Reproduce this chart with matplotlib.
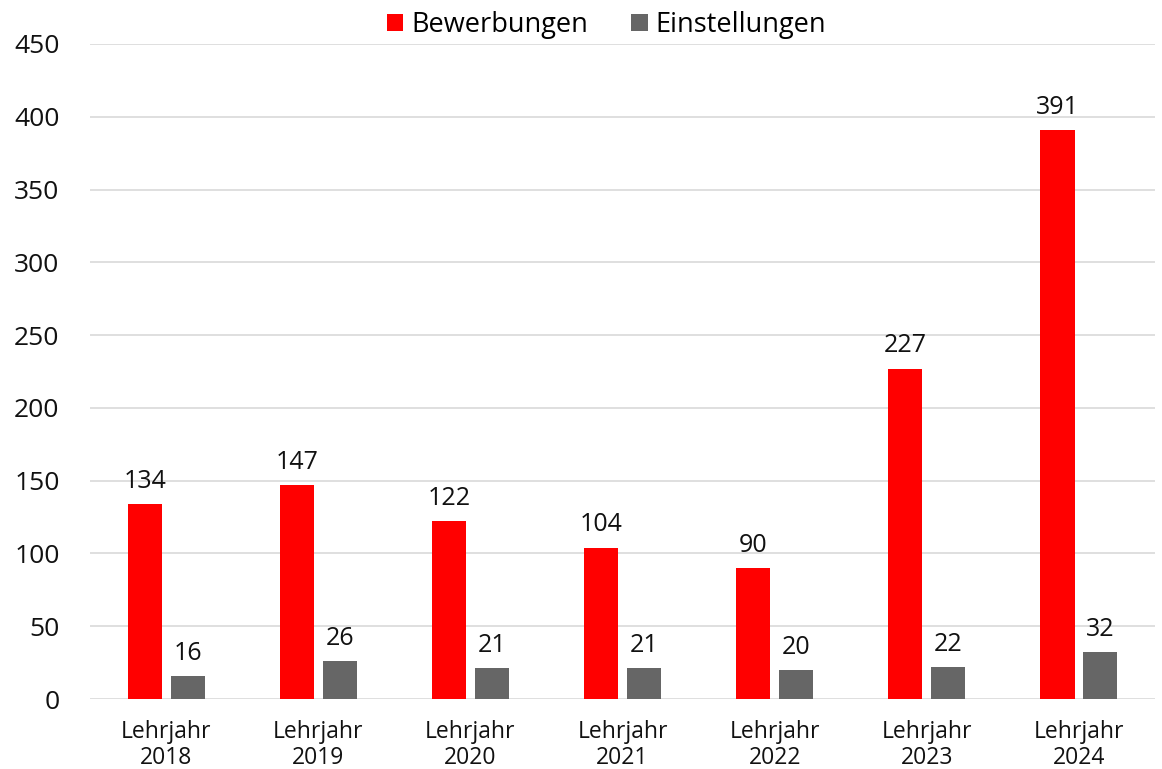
import matplotlib
matplotlib.use("Agg")
import matplotlib.pyplot as plt
import numpy as np

categories = ["Lehrjahr\n2018", "Lehrjahr\n2019", "Lehrjahr\n2020", "Lehrjahr\n2021",
              "Lehrjahr\n2022", "Lehrjahr\n2023", "Lehrjahr\n2024"]
bewerbungen = [134, 147, 122, 104, 90, 227, 391]
einstellungen = [16, 26, 21, 21, 20, 22, 32]
yticks = [0, 50, 100, 150, 200, 250, 300, 350, 400, 450]

plt.rcParams['font.family'] = ['Open Sans', 'DejaVu Sans']

fig = plt.figure(figsize=(11.62, 7.69), dpi=100)
ax = fig.add_axes([0.0775, 0.091, 0.9165, 0.8518])

x = np.arange(len(categories))
w = 0.224
off = 0.141
b1 = ax.bar(x - off, bewerbungen, width=w, color="#ff0000", label="Bewerbungen", zorder=3)
b2 = ax.bar(x + off, einstellungen, width=w, color="#666666", label="Einstellungen", zorder=3)

for rect, v in zip(list(b1) + list(b2), bewerbungen + einstellungen):
    ax.text(rect.get_x() + rect.get_width() / 2, v + 7, str(v), ha="center", va="bottom",
            fontsize=18, color="#111111")

ax.set_xlim(-0.5, len(categories) - 0.5)
ax.set_ylim(0, 450)
ax.set_yticks(yticks)
ax.set_yticklabels([str(t) for t in yticks], fontsize=19)
ax.set_xticks(x)
ax.set_xticklabels(categories, fontsize=16.5, linespacing=1.12)
ax.tick_params(axis="both", length=0, colors="#111111")
ax.tick_params(axis="y", pad=22)
ax.tick_params(axis="x", pad=15)
ax.yaxis.grid(True, color="#d9d9d9", linewidth=1.2, zorder=0)
for s in ax.spines.values():
    s.set_visible(False)

ax.legend(loc="upper center", bbox_to_anchor=(0.485, 1.088), ncol=2, frameon=False,
          fontsize=19.5, handlelength=0.6, handleheight=0.6, handletextpad=0.3,
          columnspacing=1.6)

fig.savefig("out.png", dpi=100)
